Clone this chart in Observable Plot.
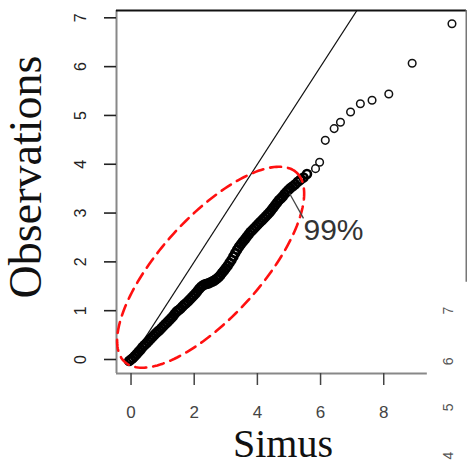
<!DOCTYPE html>
<html><head><meta charset="utf-8">
<script src="https://cdn.jsdelivr.net/npm/d3@7"></script>
<script src="https://cdn.jsdelivr.net/npm/@observablehq/plot@0.6"></script>
<style>body{margin:0;background:#fff}#chart svg{display:block;background:#fff}</style>
</head><body><div id="chart"></div>
<script>
// ---- data ----
const xTicks = [0, 2, 4, 6, 8];
const yTicks = [0, 1, 2, 3, 4, 5, 6, 7];

// dense part of the Q-Q cloud (Simus quantile, Observation quantile)
const bandSimus = [-0.06,0.00,0.06,0.12,0.18,0.24,0.30,0.36,0.42,0.48,0.54,0.60,0.66,0.72,0.78,0.84,0.90,0.96,1.02,1.08,1.14,1.20,1.26,1.32,1.38,1.44,1.50,1.56,1.62,1.68,1.74,1.80,1.86,1.92,1.98,2.04,2.10,2.16,2.22,2.28,2.34,2.40,2.46,2.52,2.58,2.64,2.70,2.76,2.82,2.88,2.94,3.00,3.06,3.12,3.18,3.24,3.30,3.36,3.42,3.48,3.54,3.60,3.66,3.72,3.78,3.84,3.90,3.96,4.02,4.08,4.14,4.20,4.26,4.32,4.38,4.44,4.50,4.56,4.62,4.68,4.74,4.80,4.86,4.92,4.98,5.04,5.12,5.20,5.28,5.36,5.46,5.57];
const bandObs   = [-0.03,0.00,0.03,0.07,0.11,0.16,0.20,0.25,0.29,0.33,0.37,0.41,0.45,0.49,0.53,0.57,0.60,0.64,0.68,0.72,0.76,0.80,0.84,0.88,0.93,0.98,1.01,1.04,1.08,1.12,1.15,1.19,1.23,1.27,1.31,1.35,1.40,1.45,1.49,1.52,1.54,1.55,1.56,1.58,1.60,1.62,1.65,1.68,1.72,1.77,1.82,1.87,1.92,1.98,2.04,2.11,2.18,2.25,2.31,2.36,2.41,2.46,2.51,2.56,2.61,2.65,2.69,2.73,2.77,2.81,2.85,2.89,2.93,2.97,3.01,3.06,3.11,3.16,3.21,3.26,3.30,3.34,3.39,3.43,3.47,3.51,3.55,3.59,3.64,3.68,3.73,3.80];
// sparse upper tail
const tailSimus = [5.84,5.97,6.15,6.43,6.63,6.95,7.26,7.63,8.16,8.90,10.16];
const tailObs   = [3.91,4.04,4.49,4.73,4.86,5.07,5.24,5.31,5.44,6.07,6.88];

// 1:1 reference line end points
const refLine = [0, 7.15];

// 99% region ellipse: centre and two conjugate semi-axes (data units)
const ellipseCenter = [2.52, 1.89];
const ellipseAxisA = [2.72, 1.94];
const ellipseAxisB = [1.17, -0.69];

// annotation
const annotText = ["99%"];
const annotPos = [5.46, 2.64];
const leaderFrom = [5.02, 3.40];
const leaderTo = [5.46, 2.89];

// tick labels of the neighbouring (cropped) panel at the right edge
const sideLabels = ["7", "6", "5", "4"];
const sidePos = [1.0, -0.04, -0.98, -1.97];

// frame
const xDomain = [-0.46, 10.62];
const yDomain = [-0.287, 7.15];
const xAxisEnd = 9.38;
const rightLineStart = 1.58;

// ---- build ----
const band = bandSimus.map((x, i) => ({x, y: bandObs[i]}));
const tail = tailSimus.map((x, i) => ({x, y: tailObs[i]}));
const ellipse = d3.range(0, 181).map(i => {
  const t = i / 180 * 2 * Math.PI;
  return {
    x: ellipseCenter[0] + ellipseAxisA[0] * Math.cos(t) + ellipseAxisB[0] * Math.sin(t),
    y: ellipseCenter[1] + ellipseAxisA[1] * Math.cos(t) + ellipseAxisB[1] * Math.sin(t)
  };
});

const sans = "Liberation Sans, Arial, sans-serif";
const serif = "Liberation Serif, Times New Roman, serif";

const chart = Plot.plot({
  width: 467,
  height: 465,
  marginLeft: 116,
  marginRight: 1,
  marginTop: 10,
  marginBottom: 92,
  style: {fontFamily: sans, background: "#fff"},
  x: {domain: xDomain, label: null},
  y: {domain: yDomain, label: null},
  marks: [
    // frame lines
    Plot.ruleX([xDomain[0]], {y1: yDomain[0], y2: yDomain[1], stroke: "#888", strokeWidth: 2}),
    Plot.ruleY([yDomain[0]], {x1: xDomain[0], x2: xAxisEnd, stroke: "#888", strokeWidth: 2}),
    Plot.ruleY([yDomain[1]], {x1: xDomain[0], x2: xDomain[1], stroke: "#111", strokeWidth: 2.2}),
    Plot.ruleX([xDomain[1]], {y1: rightLineStart, y2: yDomain[1], stroke: "#777", strokeWidth: 2}),
    // ticks
    Plot.axisY(yTicks, {anchor: "left", tickSize: 12, fill: "none", stroke: "#222", strokeWidth: 1.6, label: null}),
    Plot.axisX(xTicks, {anchor: "bottom", tickSize: 12, fill: "none", stroke: "#444", strokeWidth: 1.5, label: null}),
    // tick labels
    Plot.text(yTicks, {y: d => d, text: d => String(d), frameAnchor: "left", dx: -36, rotate: -90,
      textAnchor: "middle", lineAnchor: "middle", fontSize: 16, fill: "#222", fontFamily: sans}),
    Plot.text(xTicks, {x: d => d, text: d => String(d), frameAnchor: "bottom", dy: 39.5,
      textAnchor: "middle", lineAnchor: "middle", fontSize: 17, fill: "#444", fontFamily: sans}),
    Plot.text(sideLabels, {y: (d, i) => sidePos[i], text: d => d, frameAnchor: "right", dx: -18, rotate: -90,
      textAnchor: "middle", lineAnchor: "middle", fontSize: 14, fill: "#555", fontFamily: sans}),
    // axis titles
    Plot.text(["Simus"], {text: d => d, frameAnchor: "bottom", dx: -8.5, dy: 71, fontSize: 40,
      textAnchor: "middle", lineAnchor: "middle", fontFamily: serif, fill: "#111"}),
    Plot.text(["Observations"], {text: d => d, frameAnchor: "left", dx: -90, dy: -15, rotate: -90,
      textAnchor: "middle", lineAnchor: "middle", fontSize: 46, fontFamily: serif, fill: "#111"}),
    // 1:1 line
    Plot.link([0], {x1: refLine[0], y1: refLine[0], x2: refLine[1], y2: refLine[1], stroke: "#111", strokeWidth: 1.3}),
    // points
    Plot.dot(band, {x: "x", y: "y", r: 4, stroke: "#000", strokeWidth: 2.6, fill: "none"}),
    Plot.dot(tail, {x: "x", y: "y", r: 3.8, stroke: "#111", strokeWidth: 1.5, fill: "none"}),
    // ellipse
    Plot.line(ellipse, {x: "x", y: "y", stroke: "#ff1010", strokeWidth: 2.6, strokeDasharray: "11,7", curve: "linear"}),
    // annotation
    Plot.link([0], {x1: leaderFrom[0], y1: leaderFrom[1], x2: leaderTo[0], y2: leaderTo[1], stroke: "#444", strokeWidth: 1.3}),
    Plot.text(annotText, {x: annotPos[0], y: annotPos[1], text: d => d, textAnchor: "start", lineAnchor: "middle",
      fontSize: 30, fontFamily: sans, fill: "#333"})
  ]
});
document.getElementById("chart").appendChild(chart);
</script>
</body></html>
